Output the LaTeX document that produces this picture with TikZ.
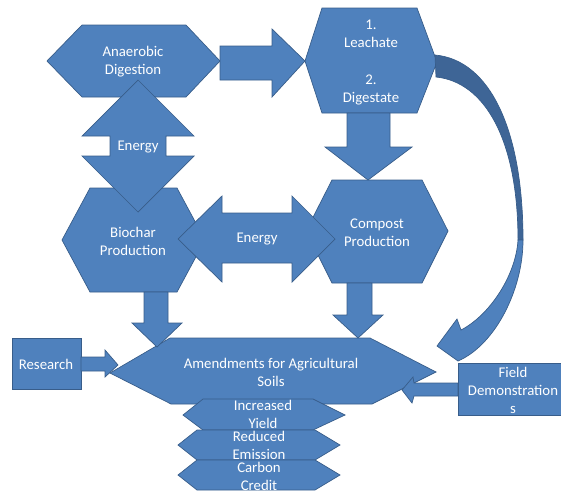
\documentclass[tikz,border=0pt]{standalone}
\usepackage{fontspec}
\setmainfont{Carlito}
\definecolor{pblue}{HTML}{4F81BD}
\definecolor{pedge}{HTML}{385D8A}
\definecolor{pdark}{HTML}{3E6596}

\begin{document}
\begin{tikzpicture}[x=1pt,y=-1pt,
  font=\fontsize{14.8}{18}\selectfont,
  blk/.style={fill=pblue, draw=pedge, line width=0.7pt, line join=miter},
  twist/.style={fill=pdark, draw=pedge, line width=0.7pt},
  lbl/.style={text=white, align=center, inner sep=0pt}]

\useasboundingbox (0,0) rectangle (561,493);
\clip (0,0) rectangle (561,493);

% ------------------------------------------------------------------ top row
\filldraw[blk] (47,61) -- (82,25) -- (186,25) -- (220,61) -- (186,97) -- (82,97) -- cycle;
\node[lbl] (digest) at (133,62) {Anaerobic\\Digestion};

\filldraw[blk] (305,61) -- (322,8) -- (417,8) -- (437,62) -- (417,113) -- (322,113) -- cycle;
\node[lbl] (leach) at (371,63) {1.\\Leachate\\[19pt]2.\\Digestate};

\filldraw[blk] (220,46) -- (272,46) -- (272,29) -- (305,61) -- (272,97) -- (272,80) -- (220,80) -- cycle;

% ------------------------------------------------------------------ middle row
\filldraw[blk] (62,240) -- (90,188) -- (177,188) -- (205,240) -- (177,292) -- (90,292) -- cycle;
\node[lbl] (biochar) at (133,241) {Biochar\\Production};

\filldraw[blk] (306,231) -- (332,180) -- (422,180) -- (448,231) -- (422,283) -- (332,283) -- cycle;
\node[lbl] (compost) at (377,233) {Compost\\Production};

% energy between digestion and biochar
\filldraw[blk] (138,80) -- (194,136) -- (166,136) -- (166,156) -- (194,156) -- (138,212)
  -- (82,156) -- (110,156) -- (110,136) -- (82,136) -- cycle;
\node[lbl] (energyv) at (138,147) {Energy};

% energy between biochar and compost
\filldraw[blk] (178,239) -- (222,196) -- (222,213) -- (292,213) -- (292,196) -- (335,239)
  -- (292,282) -- (292,263) -- (222,263) -- (222,282) -- cycle;
\node[lbl] (energyh) at (257,239) {Energy};

\filldraw[blk] (347,113) -- (390,113) -- (390,147) -- (412,147) -- (368,180) -- (325,147)
  -- (347,147) -- cycle;

% ------------------------------------------------------------------ amendments
\filldraw[blk] (110,373) -- (170,338) -- (370,338) -- (436,372) -- (372,404) -- (171,404) -- cycle;
\node[lbl] (amend) at (271,372) {Amendments for Agricultural\\Soils};

\filldraw[blk] (144,292) -- (168,292) -- (168,323) -- (182,323) -- (157,347) -- (132,323)
  -- (144,323) -- cycle;
\filldraw[blk] (347,283) -- (372,283) -- (372,315) -- (383,315) -- (358,338) -- (333,315)
  -- (347,315) -- cycle;

% research in
\filldraw[blk] (12,338) rectangle (81,389);
\node[lbl] (research) at (46,364) {Research};
\filldraw[blk] (81,357) -- (105,357) -- (105,350) -- (118,365) -- (105,377) -- (105,371)
  -- (81,371) -- cycle;

% field demonstrations in
\filldraw[blk] (458,363) rectangle (575,415);
\node[lbl] (field) at (513,390) {Field\\Demonstration\\s};
\filldraw[blk] (458,383) -- (414,383) -- (413,377) -- (402,390) -- (412,403) -- (414,396)
  -- (458,396) -- cycle;

% curved arrow from leachate/digestate (twisted band, then head)
\filldraw[twist] (435,55) .. controls (490,60) and (523,130) .. (523,240) -- (518,240)
  .. controls (518,140) and (485,82) .. (436,77) -- cycle;
\filldraw[blk] (523,240) .. controls (523,290) and (495,345) .. (458,361) -- (437,346)
  -- (457,319) -- (461,330) .. controls (490,315) and (516,275) .. (518,240) -- cycle;

% ------------------------------------------------------------------ benefits
\filldraw[blk] (183,415) -- (203,399) -- (313,399) -- (345,415) -- (313,430) -- (203,430) -- cycle;
\node[lbl] (yield) at (263,414) {Increased\\Yield};
\filldraw[blk] (178,445) -- (197,430) -- (315,430) -- (340,445) -- (315,460) -- (197,460) -- cycle;
\node[lbl] (emission) at (259,445) {Reduced\\Emission};
\filldraw[blk] (178,475) -- (197,460) -- (315,460) -- (340,475) -- (315,490) -- (197,490) -- cycle;
\node[lbl] (credit) at (259,476) {Carbon\\Credit};

\end{tikzpicture}
\end{document}
